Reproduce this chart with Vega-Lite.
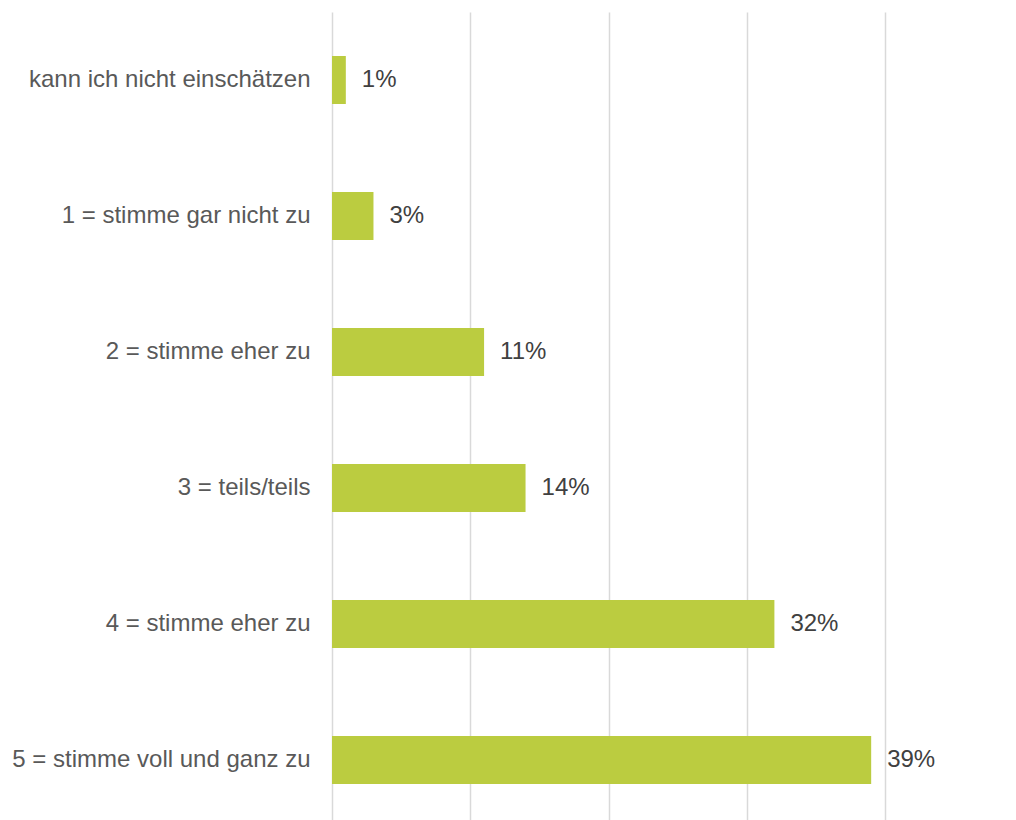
{
  "$schema": "https://vega.github.io/schema/vega-lite/v6.json",
  "width": 553,
  "height": 816,
  "autosize": {"type": "none"},
  "padding": {"left": 332, "top": 12, "right": 131, "bottom": 0},
  "config": {"view": {"stroke": null}, "font": "Liberation Sans"},
  "data": {
    "values": [
      {"category": "kann ich nicht einschätzen", "value": 0.01},
      {"category": "1 = stimme gar nicht zu", "value": 0.03},
      {"category": "2 = stimme eher zu", "value": 0.11},
      {"category": "3 = teils/teils", "value": 0.14},
      {"category": "4 = stimme eher zu", "value": 0.32},
      {"category": "5 = stimme voll und ganz zu", "value": 0.39}
    ]
  },
  "encoding": {
    "y": {
      "field": "category",
      "type": "nominal",
      "sort": null,
      "scale": {"paddingInner": 0.647, "paddingOuter": 0.3235},
      "axis": {
        "title": null,
        "ticks": false,
        "domain": false,
        "labelPadding": 22,
        "labelFontSize": 24,
        "labelColor": "#595959",
        "labelFont": "Liberation Sans",
        "labelLimit": 400
      }
    },
    "x": {
      "field": "value",
      "type": "quantitative",
      "scale": {"domain": [0, 0.4], "nice": false},
      "axis": {
        "title": null,
        "labels": false,
        "ticks": false,
        "domain": false,
        "values": [0, 0.1, 0.2, 0.3, 0.4],
        "grid": true,
        "gridColor": "#d9d9d9",
        "gridWidth": 1.5
      }
    }
  },
  "layer": [
    {"mark": {"type": "bar", "color": "#bbcc40"}},
    {
      "mark": {
        "type": "text",
        "align": "left",
        "baseline": "middle",
        "dx": 16,
        "fontSize": 24,
        "color": "#404040",
        "font": "Liberation Sans"
      },
      "encoding": {"text": {"field": "value", "type": "quantitative", "format": ".0%"}}
    }
  ]
}
